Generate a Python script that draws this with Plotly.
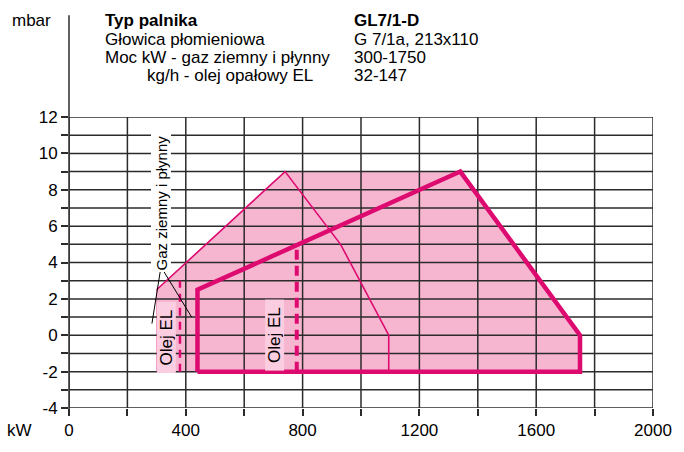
import plotly.graph_objects as go

# pole pracy palnika GL7/1-D (kW / mbar)
area_kw = [300, 300, 740, 1340, 1750, 1750, 300]
area_mbar = [-2, 2.5, 9, 9, 0, -2, -2]

gas_kw = [300, 740, 930, 1095, 1095]
gas_mbar = [2.5, 9, 5, 0, -2]

oil_kw = [440, 440, 1340, 1750, 1750, 440]
oil_mbar = [-2, 2.5, 9, 0, -2, -2]

oil_min_kw = [380, 380]
oil_min_mbar = [-2, 3.0]
oil_mid_kw = [780, 780]
oil_mid_mbar = [-2, 4.8]

x_ticks = [0, 400, 800, 1200, 1600, 2000]
x_grid = list(range(0, 2001, 200))
y_ticks = [-4, -2, 0, 2, 4, 6, 8, 10, 12]
y_grid = list(range(-4, 13))

header_left = ["<b>Typ palnika</b>", "Głowica płomieniowa",
               "Moc kW - gaz ziemny i płynny", "kg/h - olej opałowy EL"]
header_right = ["<b>GL7/1-D</b>", "G 7/1a, 213x110", "300-1750", "32-147"]

MAGENTA = "#dd0a70"
FILL = "#f7b6d0"
LABEL_BG = "#fbcde1"
GRID = "#2b2b2b"
FONT = "Liberation Sans, Arial, sans-serif"
FS = 17

fig = go.Figure()

# wypelnienie pola pracy (pod siatka)
fig.add_trace(go.Scatter(x=area_kw, y=area_mbar, fill="toself", mode="lines",
                         fillcolor=FILL, line=dict(color="#ef8fb8", width=1),
                         hoverinfo="skip", showlegend=False))

# siatka rysowana nad wypelnieniem
gx, gy = [], []
for v in x_grid:
    gx += [v, v, None]
    gy += [y_grid[0], y_grid[-1], None]
for v in y_grid:
    gx += [x_grid[0], x_grid[-1], None]
    gy += [v, v, None]
fig.add_trace(go.Scatter(x=gx, y=gy, mode="lines", line=dict(color=GRID, width=1.5),
                         hoverinfo="skip", showlegend=False))

fig.add_trace(go.Scatter(x=gas_kw, y=gas_mbar, mode="lines",
                         line=dict(color=MAGENTA, width=1.6), showlegend=False))
fig.add_trace(go.Scatter(x=oil_kw, y=oil_mbar, mode="lines",
                         line=dict(color=MAGENTA, width=4.5), showlegend=False))
fig.add_trace(go.Scatter(x=oil_min_kw, y=oil_min_mbar, mode="lines",
                         line=dict(color=MAGENTA, width=2.5, dash="8px,6px"),
                         showlegend=False))
fig.add_trace(go.Scatter(x=oil_mid_kw, y=oil_mid_mbar, mode="lines",
                         line=dict(color=MAGENTA, width=4, dash="10px,6px"),
                         showlegend=False))

# linie wskazujace od opisu "Gaz ziemny i plynny"
for tx, ty in [(284, 0.64), (420, 1.0)]:
    fig.add_shape(type="line", x0=315, y0=3.76, x1=tx, y1=ty,
                  line=dict(color="black", width=1))

# pionowa os mbar
fig.add_shape(type="line", xref="paper", yref="paper", x0=0, x1=0,
              y0=-0.027, y1=1.35, line=dict(color=GRID, width=1.5))

fig.add_annotation(x=315, y=7.3, text="Gaz ziemny i płynny", textangle=-90,
                   showarrow=False, bgcolor="white", borderpad=1,
                   font=dict(size=15, color="black"))
for lx, ly in [(332, -0.13), (705, 0.0)]:
    fig.add_annotation(x=lx, y=ly, text="Olej EL", textangle=-90, showarrow=False,
                       bgcolor=LABEL_BG, width=70, height=18, borderpad=0,
                       font=dict(size=FS, color="black"))

# naglowek
rows_y = [17, 37, 56, 74]
for i, (l, r) in enumerate(zip(header_left, header_right)):
    py = (417 - rows_y[i]) / 300
    lx = (146 if i == 3 else 103) - 69
    fig.add_annotation(xref="paper", yref="paper", x=lx / 590, y=py, text=l,
                       xanchor="left", yanchor="middle", showarrow=False,
                       font=dict(size=FS, color="black"))
    fig.add_annotation(xref="paper", yref="paper", x=(355 - 69) / 590, y=py, text=r,
                       xanchor="left", yanchor="middle", showarrow=False,
                       font=dict(size=FS, color="black"))

fig.add_annotation(xref="paper", yref="paper", x=(53 - 69) / 590, y=(417 - 18) / 300,
                   text="mbar", xanchor="right", yanchor="middle", showarrow=False,
                   font=dict(size=FS, color="black"))
fig.add_annotation(xref="paper", yref="paper", x=(34 - 69) / 590, y=(417 - 440) / 300,
                   text="kW", xanchor="right", yanchor="middle", showarrow=False,
                   font=dict(size=FS, color="black"))

fig.update_layout(
    width=684, height=452,
    margin=dict(l=69, r=25, t=117, b=35),
    paper_bgcolor="white", plot_bgcolor="white",
    font=dict(family=FONT, size=FS, color="black"),
    showlegend=False,
    xaxis=dict(range=[0, 2000], showgrid=False, zeroline=False, showline=False,
               tickmode="array", tickvals=x_grid,
               ticktext=[str(v) if v in x_ticks else "" for v in x_grid],
               ticks="outside", ticklen=7, tickwidth=1.5, tickcolor=GRID,
               fixedrange=True),
    yaxis=dict(range=[-4, 12], showgrid=False, zeroline=False, showline=False,
               tickmode="array", tickvals=y_grid,
               ticktext=[str(v) if v in y_ticks else "" for v in y_grid],
               ticks="outside", ticklen=7, tickwidth=1.5, tickcolor=GRID,
               fixedrange=True),
)

fig.write_html("out.html", config={"displayModeBar": False},
               post_script="document.body.style.margin='0px';")
